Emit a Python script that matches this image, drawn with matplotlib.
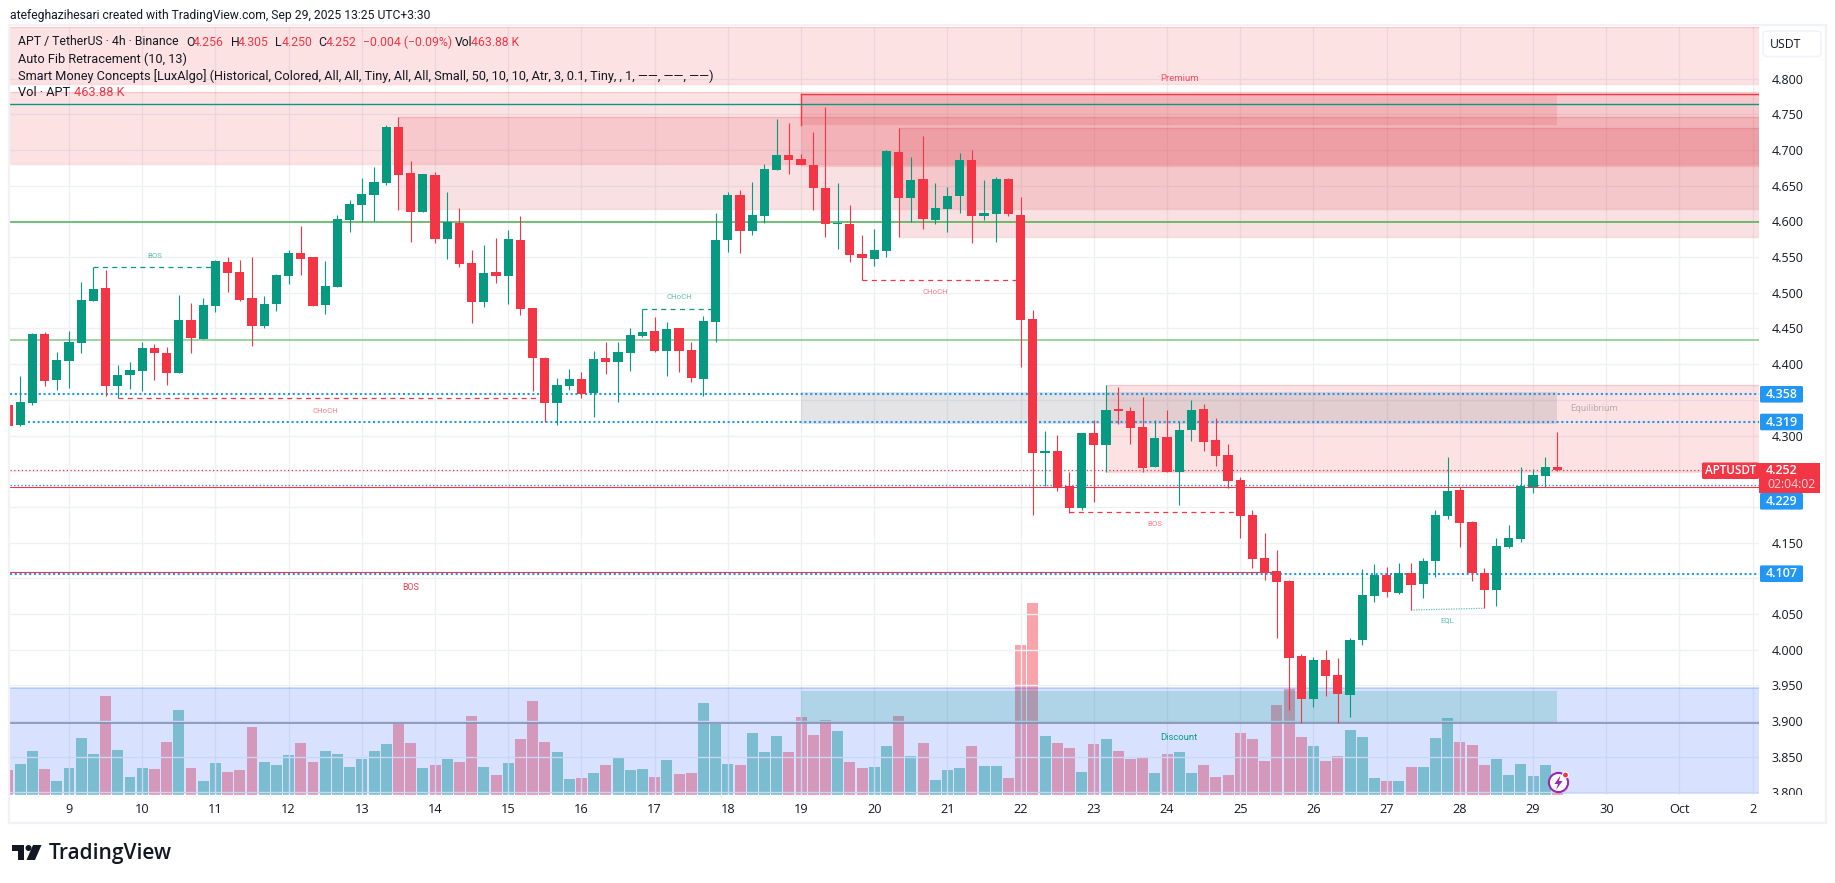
import matplotlib
matplotlib.use("Agg")
import matplotlib.pyplot as plt
from matplotlib.patches import Rectangle, Circle, Polygon, FancyBboxPatch
import numpy as np

plt.rcParams['font.family'] = ['Roboto', 'DejaVu Sans']

FIRST_BAR = -5
opens = [4.343,4.315,4.346,4.442,4.378,4.405,4.430,4.489,4.507,4.369,
         4.385,4.390,4.423,4.416,4.388,4.462,4.435,4.482,4.543,4.529,
         4.493,4.454,4.484,4.524,4.556,4.550,4.483,4.508,4.602,4.623,
         4.637,4.654,4.732,4.668,4.613,4.665,4.575,4.598,4.542,4.487,
         4.529,4.524,4.574,4.479,4.409,4.346,4.369,4.379,4.360,4.409,
         4.403,4.416,4.440,4.446,4.418,4.451,4.420,4.379,4.459,4.574,
         4.637,4.587,4.608,4.672,4.693,4.688,4.679,4.647,4.596,4.596,
         4.554,4.547,4.559,4.697,4.633,4.659,4.602,4.618,4.636,4.686,
         4.608,4.610,4.660,4.609,4.463,4.276,4.278,4.229,4.198,4.304,
         4.287,4.336,4.334,4.312,4.256,4.298,4.249,4.308,4.337,4.294,
         4.273,4.238,4.189,4.128,4.110,4.096,3.991,3.931,3.985,3.964,
         3.936,4.014,4.075,4.105,4.079,4.107,4.092,4.124,4.187,4.224,
         4.179,4.107,4.083,4.144,4.155,4.228,4.243,4.256]
highs = [4.343,4.383,4.444,4.445,4.417,4.446,4.515,4.536,4.532,4.399,
         4.403,4.431,4.428,4.424,4.497,4.486,4.493,4.546,4.550,4.546,
         4.550,4.496,4.526,4.560,4.594,4.550,4.545,4.609,4.630,4.661,
         4.676,4.735,4.746,4.685,4.667,4.669,4.641,4.619,4.560,4.567,
         4.577,4.588,4.608,4.479,4.410,4.381,4.393,4.389,4.418,4.431,
         4.431,4.451,4.478,4.466,4.459,4.451,4.431,4.468,4.612,4.641,
         4.644,4.655,4.681,4.744,4.738,4.695,4.725,4.760,4.654,4.623,
         4.581,4.589,4.700,4.731,4.690,4.720,4.654,4.648,4.696,4.700,
         4.658,4.662,4.661,4.634,4.476,4.306,4.301,4.249,4.304,4.322,
         4.371,4.368,4.340,4.354,4.322,4.336,4.319,4.350,4.344,4.325,
         4.288,4.242,4.196,4.163,4.140,4.098,3.994,3.990,3.999,3.988,
         4.016,4.113,4.120,4.116,4.121,4.121,4.128,4.196,4.270,4.228,
         4.180,4.114,4.156,4.175,4.256,4.253,4.270,4.305]
lows = [4.314,4.314,4.343,4.369,4.364,4.366,4.415,4.489,4.356,4.352,
        4.365,4.362,4.378,4.371,4.388,4.415,4.435,4.473,4.501,4.489,
        4.425,4.451,4.475,4.512,4.525,4.482,4.470,4.508,4.585,4.599,
        4.601,4.651,4.616,4.571,4.613,4.570,4.547,4.536,4.458,4.480,
        4.514,4.484,4.469,4.362,4.319,4.315,4.364,4.353,4.326,4.386,
        4.347,4.391,4.438,4.417,4.384,4.389,4.375,4.356,4.431,4.557,
        4.556,4.581,4.598,4.672,4.666,4.679,4.616,4.578,4.561,4.543,
        4.518,4.538,4.550,4.578,4.599,4.589,4.596,4.585,4.612,4.570,
        4.602,4.571,4.608,4.396,4.189,4.229,4.222,4.192,4.196,4.207,
        4.249,4.316,4.288,4.249,4.256,4.249,4.203,4.292,4.278,4.257,
        4.226,4.156,4.114,4.098,4.016,3.915,3.897,3.920,3.935,3.897,
        3.906,4.007,4.067,4.074,4.078,4.056,4.072,4.102,4.183,4.144,
        4.096,4.058,4.061,4.142,4.151,4.219,4.228,4.250]
closes = [4.314,4.347,4.442,4.377,4.406,4.431,4.490,4.505,4.369,4.385,
          4.392,4.423,4.416,4.388,4.462,4.437,4.483,4.545,4.528,4.490,
          4.454,4.484,4.525,4.556,4.547,4.482,4.510,4.603,4.624,4.638,
          4.655,4.732,4.665,4.613,4.667,4.575,4.599,4.540,4.487,4.528,
          4.524,4.575,4.477,4.409,4.346,4.371,4.379,4.358,4.407,4.403,
          4.417,4.441,4.445,4.418,4.449,4.418,4.381,4.461,4.574,4.637,
          4.587,4.609,4.674,4.693,4.686,4.679,4.647,4.596,4.598,4.553,
          4.549,4.560,4.699,4.633,4.658,4.603,4.619,4.636,4.686,4.608,
          4.612,4.660,4.610,4.462,4.276,4.277,4.228,4.198,4.304,4.287,
          4.336,4.335,4.311,4.255,4.297,4.249,4.308,4.336,4.291,4.272,
          4.236,4.187,4.127,4.107,4.095,3.988,3.931,3.985,3.963,3.938,
          4.014,4.077,4.105,4.081,4.107,4.091,4.124,4.189,4.222,4.177,
          4.107,4.083,4.145,4.156,4.229,4.245,4.256,4.252]
volumes_k = [7500,9300,13200,7800,4200,8100,17100,12300,29700,13500,
             5400,8100,7800,15900,25500,8100,4200,9600,6900,7500,
             20400,9900,9000,12000,15600,9900,13200,12300,8400,10800,
             13200,15300,21300,15600,8100,9000,10800,9900,23700,8400,
             6000,9600,16800,28200,15900,12900,4800,5100,6600,9000,
             11400,7500,7800,5400,10500,6300,6600,27600,21300,9300,
             9000,18600,12900,17700,12900,23400,18000,22500,19200,9900,
             8100,8400,14700,23700,11700,15600,4500,7500,8100,14700,
             8700,8700,5100,45000,57600,17700,15600,14100,6900,15300,
             16800,13200,10800,11400,6600,12300,12900,6600,9000,5400,
             6000,18600,16800,10200,27000,31800,17400,14700,10200,11700,
             19500,17400,5100,4200,4200,8400,8400,17100,23100,15900,
             15000,9000,10800,6000,9300,5700,9000,464]
day_labels = ['9','10','11','12','13','14','15','16','17','18','19','20','21','22',
              '23','24','25','26','27','28','29','30','Oct','2']
price_ticks = [3.80,3.85,3.90,3.95,4.00,4.05,4.10,4.15,4.20,4.25,4.30,4.35,4.40,4.45,
               4.50,4.55,4.60,4.65,4.70,4.75,4.80]
covered_ticks = [4.10, 4.20, 4.25, 4.35]

RED = '#F23645'; TEAL = '#089981'; BLUE = '#2196F3'; OB = '#d9303c'
W, H = 1835, 883
fig = plt.figure(figsize=(W/100, H/100), dpi=100, facecolor='white')
L, R, T, B = 10, 1759, 27, 795
pos = [L/W, 1-B/H, (R-L)/W, (B-T)/H]

vol = fig.add_axes(pos, zorder=1)
ax = fig.add_axes(pos, zorder=2)
ax.patch.set_visible(False)
x = np.arange(len(opens)) + FIRST_BAR
o, h, l, c = map(np.array, (opens, highs, lows, closes))
up = c >= o
colors = np.where(up, TEAL, RED)
XLIM = (-4.836, 138.52)
YLIM = (3.7964, 4.8724)

# volume
vcolors = [TEAL if u else RED for u in up]
vol.bar(x, volumes_k, width=0.9, color=vcolors, alpha=0.45, linewidth=0)
vol.set_xlim(*XLIM); vol.set_ylim(0, 230400); vol.axis('off')

ax.set_xlim(*XLIM); ax.set_ylim(*YLIM)
ax.set_xticks(np.arange(len(day_labels))*6)
ax.set_xticklabels(day_labels, fontsize=9.2, color='#131722', family='Open Sans')
ax.set_yticks(price_ticks)
ax.set_yticklabels(['' if p in covered_ticks else f'{p:.3f}' for p in price_ticks],
                   fontsize=9, color='#131722', family='Open Sans')
ax.yaxis.tick_right()
ax.tick_params(axis='both', length=0)
ax.tick_params(axis='y', pad=9)
ax.tick_params(axis='x', pad=6)
ax.grid(True, color='#eef0f4', linewidth=1, zorder=0)
ax.set_axisbelow(True)
for s in ax.spines.values():
    s.set_visible(False)

LEFT, RIGHT = XLIM
def box(x0, x1, y0, y1, color=RED, alpha=0.14, edge=True, z=1):
    ax.add_patch(Rectangle((x0, y0), x1-x0, y1-y0, facecolor=color, alpha=alpha, lw=0, zorder=z))
    if edge:
        ax.plot([x0, x1], [y0, y0], color=color, alpha=0.16, lw=1, zorder=z, solid_capstyle='butt')
        ax.plot([x0, x1], [y1, y1], color=color, alpha=0.16, lw=1, zorder=z, solid_capstyle='butt')

box(LEFT, RIGHT, 4.792, YLIM[1])
box(LEFT, RIGHT, 4.680, 4.781)
box(27, RIGHT, 4.617, 4.746, color=OB)
box(68, RIGHT, 4.5786, 4.731, color=OB)
box(60, RIGHT, 4.677, 4.778, color=OB)
box(60, 122, 4.7355, 4.778, color=OB, alpha=0.14, edge=False)
box(85, RIGHT, 4.2494, 4.3708)
box(60, 122, 4.3166, 4.3606, color='#787B86', alpha=0.2, edge=False)
box(LEFT, RIGHT, 3.798, 3.9458, color='#2962FF', alpha=0.18, edge=False)
ax.plot([LEFT, RIGHT], [3.9458]*2, color='#2962FF', alpha=0.25, lw=1.2, zorder=1)
box(60, 122, 3.897, 3.942, color=TEAL, alpha=0.19, edge=False)

# horizontal levels
ax.plot([60, RIGHT], [4.778]*2, color=RED, lw=1, zorder=3)
ax.plot([60, 60], [4.7355, 4.778], color=RED, lw=1, zorder=3)
ax.plot([LEFT, RIGHT], [4.7641]*2, color=TEAL, lw=1, zorder=3)
ax.plot([LEFT, RIGHT], [4.5988]*2, color='#4CAF50', lw=1.1, zorder=3)
ax.plot([LEFT, RIGHT], [4.4335]*2, color='#81C784', lw=1.1, zorder=3)
ax.plot([LEFT, RIGHT], [3.897]*2, color='#8490b5', lw=1.2, zorder=3)
ax.plot([LEFT, RIGHT], [4.2284]*2, color=RED, lw=0.8, zorder=3)
ax.plot([LEFT, 98.5], [4.1083]*2, color=RED, lw=0.8, zorder=3)
ax.plot([LEFT, RIGHT], [4.2514]*2, color=RED, lw=0.9, ls=(0, (1, 2)), zorder=3)
dot = (0, (1.0, 1.3))
ax.plot([LEFT, RIGHT], [4.358]*2, color=BLUE, lw=1.5, ls=dot, zorder=3)
ax.plot([-3.4, RIGHT], [4.319]*2, color=BLUE, lw=1.5, ls=dot, zorder=3)
ax.plot([LEFT, RIGHT], [4.2305]*2, color=BLUE, lw=1.0, ls=(0, (1, 1.6)), zorder=3)
ax.plot([LEFT, RIGHT], [4.1062]*2, color=BLUE, lw=1.5, ls=dot, zorder=3)

# structure lines
dash = (0, (4, 3.5))
ax.plot([2, 12], [4.5357]*2, color=TEAL, lw=0.9, ls=dash, zorder=3)
ax.plot([4, 39], [4.352]*2, color=RED, lw=0.9, ls=dash, zorder=3)
ax.plot([47, 53], [4.478]*2, color=TEAL, lw=0.9, ls=dash, zorder=3)
ax.plot([65, 78], [4.5175]*2, color=RED, lw=0.9, ls=dash, zorder=3)
ax.plot([82, 96], [4.1925]*2, color=RED, lw=0.9, ls=dash, zorder=3)
ax.plot([110, 116], [4.0555, 4.058], color=TEAL, lw=0.9, alpha=0.6, ls=(0, (1, 1)), zorder=3)

# candles
ax.vlines(x, l, h, colors=colors, linewidth=0.8, zorder=4)
ax.bar(x, np.maximum(np.abs(c-o), 0.002), bottom=np.minimum(o, c), width=0.75, color=colors, linewidth=0, zorder=5)

def lab(i, p, s, color, size=5.6, alpha=0.65):
    ax.text(i, p, s, color=color, fontsize=size, ha='center', va='center', alpha=alpha, zorder=6)
lab(7, 4.552, 'BOS', TEAL)
lab(21, 4.335, 'CHoCH', RED)
lab(50, 4.4945, 'CHoCH', TEAL)
lab(71, 4.5015, 'CHoCH', RED)
lab(89, 4.1765, 'BOS', RED)
lab(28, 4.087, 'BOS', RED, size=6.4, alpha=0.95)
lab(113, 4.042, 'EQL', TEAL)
lab(91, 4.8, 'Premium', RED, size=6.8, alpha=0.85)
lab(91, 3.877, 'Discount', TEAL, size=6.8, alpha=1)
lab(125, 4.3376, 'Equilibrium', '#787B86', size=6.8, alpha=0.5)

# overlay in pixels
ov = fig.add_axes([0, 0, 1, 1], zorder=5)
ov.set_xlim(0, W); ov.set_ylim(H, 0); ov.axis('off'); ov.patch.set_visible(False)
ov.add_patch(Rectangle((1760, 795), 66, 27, facecolor='white', lw=0, zorder=1))
for seg in ([(9, 25), (1826, 25)], [(9, 823), (1826, 823)], [(9, 25), (9, 823)], [(1826, 25), (1826, 823)]):
    ov.plot(*zip(*seg), color='#f0f2f5', lw=1.6, zorder=2)

ov.text(10, 15, 'atefeghazihesari created with TradingView.com, Sep 29, 2025 13:25 UTC+3:30',
        fontsize=8.75, color='#131722', va='center')

INK = '#131722'
def t(xp, yp, s, color=INK, size=8.8, **kw):
    ov.text(xp, yp, s, color=color, fontsize=size, va='center', zorder=3, **kw)
t(18, 42, 'APT / TetherUS · 4h · Binance')
for xp, s, col in [(186, 'O', INK), (193, '4.256', RED), (231, 'H', INK), (238, '4.305', RED),
                   (275, 'L', INK), (281.6, '4.250', RED), (318, 'C', INK), (326, '4.252', RED),
                   (362.6, '−0.004 (−0.09%)', RED), (455, 'Vol', INK), (471, '463.88 K', RED)]:
    t(xp, 42, s, col)
t(18, 59, 'Auto Fib Retracement (10, 13)', size=9.2)
t(18, 76, 'Smart Money Concepts [LuxAlgo] (Historical, Colored, All, All, Tiny, All, All, Small, 50, 10, 10, Atr, 3, 0.1, Tiny, , 1, ——, ——, ——)', size=9.2)
t(18, 93, 'Vol · APT', size=9.2)
t(74, 93, '463.88 K', RED, size=9.2)

# USDT button
ov.add_patch(FancyBboxPatch((1763, 31), 58, 25.5, boxstyle='round,pad=0,rounding_size=4', facecolor='white',
                            edgecolor='#f0f3fa', lw=1.2, zorder=2))
ov.text(1786, 44.7, 'USDT', color=INK, fontsize=8.8, ha='center', va='center', zorder=3, family='Open Sans')

# price labels
def plabel(yc, s):
    ov.add_patch(FancyBboxPatch((1760, yc-8.3), 43, 16.6, boxstyle='round,pad=0,rounding_size=1.5',
                                facecolor=BLUE, edgecolor='none', zorder=2))
    ov.text(1782, yc, s, color='white', fontsize=9, ha='center', va='center', zorder=3,
            family='Open Sans', fontweight='semibold')
plabel(394.3, '4.358'); plabel(422, '4.319'); plabel(501.3, '4.229'); plabel(573.7, '4.107')
ov.add_patch(FancyBboxPatch((1702, 462.5), 57, 16.5, boxstyle='round,pad=0,rounding_size=1.5', facecolor=RED, edgecolor='none', zorder=2))
ov.add_patch(Rectangle((1759, 462.5), 61, 30, facecolor=RED, lw=0, zorder=2))
ov.text(1730.5, 470.7, 'APTUSDT', color='white', fontsize=8.4, ha='center', va='center', zorder=3,
        family='Open Sans', fontweight='semibold')
ov.text(1782, 470.7, '4.252', color='white', fontsize=9, ha='center', va='center', zorder=3,
        family='Open Sans', fontweight='semibold')
ov.text(1791, 484.7, '02:04:02', color='#fbd5d8', fontsize=8.8, ha='center', va='center', zorder=3, family='Open Sans')

# lightning badge
ov.add_patch(Circle((1558.5, 782.5), 9.6, facecolor='white', edgecolor='#9C27B0', lw=1.5, zorder=4))
ov.add_patch(Polygon([(1560.5, 775.5), (1554.5, 784), (1558, 784), (1556, 790), (1562.5, 781), (1559, 781)],
                     facecolor='#9C27B0', lw=0, zorder=5))
ov.add_patch(Circle((1565.5, 775), 3, facecolor='#F23645', edgecolor='white', lw=0.8, zorder=6))

# TradingView logo
ink = '#131722'
ov.add_patch(Polygon([(11.5, 845), (24, 845), (24, 860), (17.5, 860), (17.5, 851), (11.5, 851)], facecolor=ink, lw=0))
ov.add_patch(Circle((28.5, 848), 3, facecolor=ink, lw=0))
ov.add_patch(Polygon([(33, 845), (41.5, 845), (35, 860), (26.5, 860)], facecolor=ink, lw=0))
ov.text(49, 853, 'TradingView', fontsize=15, fontweight='semibold', color=ink, va='center', family='Open Sans')

fig.savefig('out.png', dpi=100, facecolor='white')
